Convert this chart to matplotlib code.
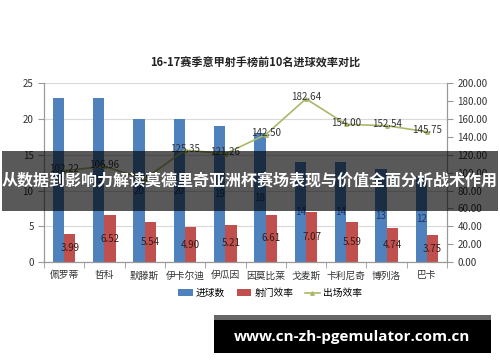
import matplotlib
matplotlib.use("Agg")
import matplotlib.pyplot as plt
import numpy as np
from matplotlib.patches import Rectangle

plt.rcParams["font.family"] = ["Noto Sans CJK SC", "DejaVu Sans"]

# 데이터
players = ["佩罗蒂", "哲科", "默滕斯", "伊卡尔迪", "伊瓜因",
           "因莫比莱", "戈麦斯", "卡利尼奇", "博列洛", "巴卡"]
goals = [23, 23, 20, 20, 19, 18, 14, 14, 13, 12]
shot_eff = [3.99, 6.52, 5.54, 4.90, 5.21, 6.61, 7.07, 5.59, 4.74, 3.75]
app_eff = [102.22, 106.96, 92.93, 125.35, 121.26, 142.50,
           182.64, 154.00, 152.54, 145.75]
left_ticks = [0, 5, 10, 15, 20, 25]
right_ticks = list(range(0, 201, 20))

BLUE = "#4F81BD"
RED = "#C0504D"
GREEN = "#A9B868"
TXT = "#333333"

fig = plt.figure(figsize=(5.0, 3.62), dpi=100)
ax = fig.add_axes([0.088, 0.276, 0.806, 0.494])
ax2 = ax.twinx()

x = np.arange(len(players))
w = 0.28
b1 = ax.bar(x - w / 2, goals, w, color=BLUE, zorder=2, label="进球数")
b2 = ax.bar(x + w / 2, shot_eff, w, color=RED, zorder=2, label="射门效率")
for rect, v in zip(b1, goals):
    ax.text(rect.get_x() + rect.get_width() / 2, v / 2, f"{v}",
            ha="center", va="center", fontsize=7, color="#1F3864", zorder=3)
for rect, v in zip(b2, shot_eff):
    ax.text(rect.get_x() + rect.get_width() / 2, v / 2, f"{v:.2f}",
            ha="center", va="center", fontsize=7, color="#3A1A1A", zorder=3)

ln, = ax2.plot(x, app_eff, color=GREEN, lw=1.2, marker="^", markersize=2.5,
               label="出场效率", zorder=4)
for xi, v in zip(x, app_eff):
    ax2.annotate(f"{v:.2f}", (xi, v), xytext=(0, 1), textcoords="offset points",
                 ha="center", va="center", fontsize=7, color=TXT, zorder=5)

ax.set_xlim(-0.5, len(players) - 0.5)
ax.set_ylim(0, 25)
ax.set_yticks(left_ticks)
ax2.set_ylim(0, 200)
ax2.set_yticks(right_ticks)
ax2.set_yticklabels([f"{t:.2f}" for t in right_ticks])
ax.set_xticks(x)
ax.set_xticklabels(players)
ax.set_xticks(np.arange(-0.5, len(players), 1), minor=True)
ax.tick_params(axis="x", which="major", length=0, labelsize=7, colors=TXT, pad=6)
ax.tick_params(axis="x", which="minor", length=4, color="#999999")
ax.tick_params(axis="y", length=4, labelsize=7, colors=TXT, color="#999999")
ax2.tick_params(axis="y", length=4, labelsize=7, colors=TXT, color="#999999")

ax.grid(axis="y", color="#D9D9D9", lw=0.8, zorder=0)
ax.set_axisbelow(True)
for a in (ax, ax2):
    a.spines["top"].set_visible(False)
    for s in ("left", "right", "bottom"):
        a.spines[s].set_color("#999999")
        a.spines[s].set_linewidth(0.8)

fig.text(0.51, 0.826, "16-17赛季意甲射手榜前10名进球效率对比", ha="center",
         va="center", fontsize=8, fontweight="bold", color="#222222")

fig.legend(handles=[b1, b2, ln], loc="center", bbox_to_anchor=(0.54, 0.19),
           ncol=3, frameon=False, fontsize=7, handlelength=1.5,
           handletextpad=0.3, columnspacing=1.2)

# 배너 오버레이
fig.patches.append(Rectangle((0.004, 1 - 211 / 362), 0.992, 60 / 362,
                             transform=fig.transFigure, facecolor="black",
                             alpha=0.65, zorder=10))
fig.text(0.5, 1 - 181 / 362, "从数据到影响力解读莫德里奇亚洲杯赛场表现与价值全面分析战术作用",
         ha="center", va="center", fontsize=11.5, fontweight="bold",
         color="white", zorder=11)

# 워터마크
fig.patches.append(Rectangle((214 / 500, 1 - 353 / 362), 277 / 500, 33 / 362,
                             transform=fig.transFigure, facecolor="black",
                             zorder=10))
fig.patches.append(Rectangle((214 / 500, 1 - 320 / 362), 277 / 500, 5 / 362,
                             transform=fig.transFigure, facecolor="#666666",
                             zorder=10))
fig.text(352 / 500, 1 - 337 / 362, "www.cn-zh-pgemulator.com.cn", ha="center",
         va="center", fontsize=11, fontweight="bold", color="white",
         family=["Open Sans", "DejaVu Sans"], zorder=11)

fig.savefig("out.png", dpi=100, facecolor="white")
